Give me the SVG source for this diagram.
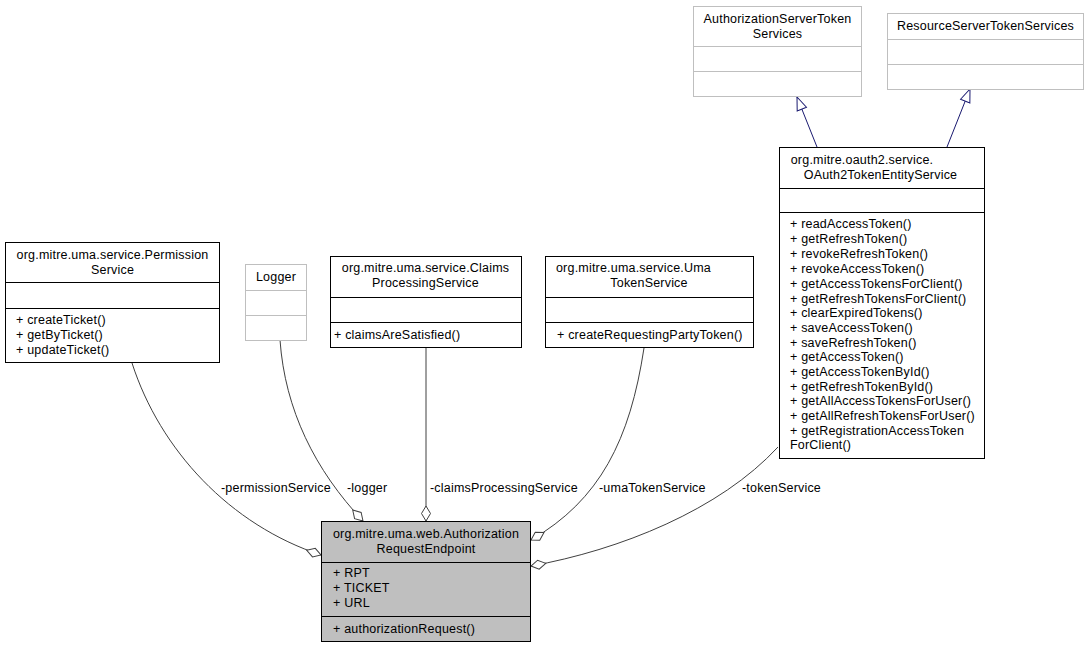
<svg xmlns="http://www.w3.org/2000/svg" width="1090" height="648" viewBox="0 0 1090 648">
<style>
text{font-family:"Liberation Sans",Arial,Helvetica,sans-serif;font-size:12.5px;letter-spacing:0.2px;fill:#000}
.c{text-anchor:middle}
.box{fill:#fff;stroke:#000;stroke-width:1}
.ext{fill:#fff;stroke:#bfbfbf;stroke-width:1}
.main{fill:#bfbfbf;stroke:#000;stroke-width:1}
.sep{stroke:#000;stroke-width:1}
.sepx{stroke:#bfbfbf;stroke-width:1}
.agg{fill:none;stroke:#404040;stroke-width:1;marker-end:url(#diamond)}
.inh{fill:none;stroke:#191970;stroke-width:1;marker-end:url(#tri)}
</style>
<defs>
<marker id="diamond" markerUnits="userSpaceOnUse" markerWidth="17" markerHeight="11" viewBox="-1 -1 17 11" refX="15" refY="4.5" orient="auto">
<path d="M0,4.5 L7.5,0 L15,4.5 L7.5,9 Z" fill="#fff" stroke="#404040" stroke-width="1"/>
</marker>
<marker id="tri" markerUnits="userSpaceOnUse" markerWidth="15" markerHeight="12" viewBox="-1 -1 15 12" refX="13" refY="5" orient="auto">
<path d="M0,0 L13,5 L0,10 Z" fill="#fff" stroke="#191970" stroke-width="1"/>
</marker>
</defs>
<rect width="1090" height="648" fill="#fff"/>

<g id="connectors">
<path class="agg" d="M132,363 C160,450 230,525 321,555"/>
<path class="agg" d="M280,340 C285,410 315,470 363,521"/>
<path class="agg" d="M426,347 L426,521"/>
<path class="agg" d="M644,348 C630,440 600,500 531,540"/>
<path class="agg" d="M778,447 C720,510 620,550 531,566"/>
<path class="inh" d="M817,147 L797,97"/>
<path class="inh" d="M947,147 L970,89"/>
<text x="221" y="492">-permissionService</text>
<text x="347" y="492">-logger</text>
<text x="430" y="492">-claimsProcessingService</text>
<text x="599" y="492">-umaTokenService</text>
<text x="742" y="492">-tokenService</text>
</g>

<g id="AuthorizationRequestEndpoint">
<rect class="main" x="321.5" y="521.5" width="209" height="120"/>
<line class="sep" x1="321.5" y1="562.5" x2="530.5" y2="562.5"/>
<line class="sep" x1="321.5" y1="616.5" x2="530.5" y2="616.5"/>
<text class="c" x="426" y="538">org.mitre.uma.web.Authorization</text>
<text class="c" x="426" y="553">RequestEndpoint</text>
<text x="333" y="577">+ RPT</text>
<text x="333" y="592">+ TICKET</text>
<text x="333" y="607">+ URL</text>
<text x="333" y="633">+ authorizationRequest()</text>
</g>

<g id="PermissionService">
<rect class="box" x="5.5" y="242.5" width="214" height="120"/>
<line class="sep" x1="5.5" y1="282.5" x2="219.5" y2="282.5"/>
<line class="sep" x1="5.5" y1="308.5" x2="219.5" y2="308.5"/>
<text class="c" x="112.5" y="259">org.mitre.uma.service.Permission</text>
<text class="c" x="112.5" y="274">Service</text>
<text x="16" y="324">+ createTicket()</text>
<text x="16" y="339">+ getByTicket()</text>
<text x="16" y="354">+ updateTicket()</text>
</g>

<g id="Logger">
<rect class="ext" x="245.5" y="264.5" width="61" height="76"/>
<line class="sepx" x1="245.5" y1="290.5" x2="306.5" y2="290.5"/>
<line class="sepx" x1="245.5" y1="315.5" x2="306.5" y2="315.5"/>
<text class="c" x="276" y="281">Logger</text>
</g>

<g id="ClaimsProcessingService">
<rect class="box" x="330.5" y="256.5" width="191" height="91"/>
<line class="sep" x1="330.5" y1="297.5" x2="521.5" y2="297.5"/>
<line class="sep" x1="330.5" y1="322.5" x2="521.5" y2="322.5"/>
<text class="c" x="425.5" y="272">org.mitre.uma.service.Claims</text>
<text class="c" x="425.5" y="287">ProcessingService</text>
<text x="334" y="339">+ claimsAreSatisfied()</text>
</g>

<g id="UmaTokenService">
<rect class="box" x="545.5" y="256.5" width="208" height="91"/>
<line class="sep" x1="545.5" y1="297.5" x2="753.5" y2="297.5"/>
<line class="sep" x1="545.5" y1="322.5" x2="753.5" y2="322.5"/>
<text class="c" x="633.5" y="272">org.mitre.uma.service.Uma</text>
<text class="c" x="649" y="287">TokenService</text>
<text x="557" y="339">+ createRequestingPartyToken()</text>
</g>

<g id="AuthorizationServerTokenServices">
<rect class="ext" x="693.5" y="6.5" width="168" height="90"/>
<line class="sepx" x1="693.5" y1="46.5" x2="861.5" y2="46.5"/>
<line class="sepx" x1="693.5" y1="71.5" x2="861.5" y2="71.5"/>
<text class="c" x="777.5" y="23">AuthorizationServerToken</text>
<text class="c" x="777.5" y="38">Services</text>
</g>

<g id="ResourceServerTokenServices">
<rect class="ext" x="887.5" y="13.5" width="196" height="76"/>
<line class="sepx" x1="887.5" y1="39.5" x2="1083.5" y2="39.5"/>
<line class="sepx" x1="887.5" y1="64.5" x2="1083.5" y2="64.5"/>
<text class="c" x="985.5" y="30">ResourceServerTokenServices</text>
</g>

<g id="OAuth2TokenEntityService">
<rect class="box" x="779.5" y="147.5" width="205" height="311"/>
<line class="sep" x1="779.5" y1="188.5" x2="984.5" y2="188.5"/>
<line class="sep" x1="779.5" y1="212.5" x2="984.5" y2="212.5"/>
<text class="c" x="862" y="164">org.mitre.oauth2.service.</text>
<text class="c" x="880.5" y="179">OAuth2TokenEntityService</text>
<text x="790" y="228">+ readAccessToken()</text>
<text x="790" y="243">+ getRefreshToken()</text>
<text x="790" y="258">+ revokeRefreshToken()</text>
<text x="790" y="273">+ revokeAccessToken()</text>
<text x="790" y="288">+ getAccessTokensForClient()</text>
<text x="790" y="303">+ getRefreshTokensForClient()</text>
<text x="790" y="317">+ clearExpiredTokens()</text>
<text x="790" y="332">+ saveAccessToken()</text>
<text x="790" y="347">+ saveRefreshToken()</text>
<text x="790" y="361">+ getAccessToken()</text>
<text x="790" y="376">+ getAccessTokenById()</text>
<text x="790" y="391">+ getRefreshTokenById()</text>
<text x="790" y="405">+ getAllAccessTokensForUser()</text>
<text x="790" y="420">+ getAllRefreshTokensForUser()</text>
<text x="790" y="435">+ getRegistrationAccessToken</text>
<text x="790" y="449">ForClient()</text>
</g>
</svg>
